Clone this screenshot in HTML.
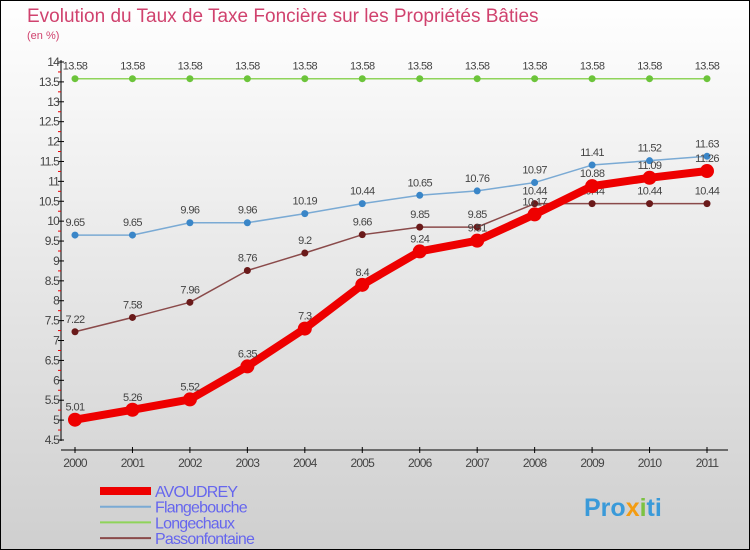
<!DOCTYPE html>
<html><head><meta charset="utf-8"><style>
body{margin:0;width:750px;height:550px;overflow:hidden}
svg{display:block;font-family:"Liberation Sans","DejaVu Sans",sans-serif}
</style></head><body>
<svg id="c" width="750" height="550">
<defs><linearGradient id="bg" x1="0" y1="0" x2="0" y2="1"><stop offset="0" stop-color="#ffffff"/><stop offset="1" stop-color="#cfcfcf"/></linearGradient></defs>
<rect x="0.5" y="0.5" width="749" height="549" fill="url(#bg)" stroke="#000"/>
<text x="27" y="22" font-size="19" fill="#d0426e">Evolution du Taux de Taxe Foncière sur les Propriétés Bâties</text>
<text x="27" y="39" font-size="11" fill="#d0426e">(en %)</text>
<g id="axes"></g><g id="series"></g><g id="legend"></g>
<text x="584" y="516" font-size="25" font-weight="bold" fill="#3a9ad9">Pro<tspan fill="#f39c12">x</tspan><tspan fill="#7cc242">i</tspan>ti</text>
</svg>
<script>
const years=["2000","2001","2002","2003","2004","2005","2006","2007","2008","2009","2010","2011"];
const avoudrey=[5.01,5.26,5.52,6.35,7.3,8.4,9.24,9.51,10.17,10.88,11.09,11.26];
const flangebouche=[9.65,9.65,9.96,9.96,10.19,10.44,10.65,10.76,10.97,11.41,11.52,11.63];
const longechaux=[13.58,13.58,13.58,13.58,13.58,13.58,13.58,13.58,13.58,13.58,13.58,13.58];
const passonfontaine=[7.22,7.58,7.96,8.76,9.2,9.66,9.85,9.85,10.44,10.44,10.44,10.44];
const yTicks=["4.5","5","5.5","6","6.5","7","7.5","8","8.5","9","9.5","10","10.5","11","11.5","12","12.5","13","13.5","14"];
const NS="http://www.w3.org/2000/svg";
const X=i=>75+i*(632/11);
const Y=v=>440-(v-4.5)*(378/9.5);
function mk(t,a,p){const e=document.createElementNS(NS,t);for(const k in a)e.setAttribute(k,a[k]);p.appendChild(e);return e;}
const ax=document.getElementById('axes');
let l=mk('line',{x1:61,y1:60,x2:61,y2:441,stroke:'#000'},ax);


l=mk('line',{x1:61,y1:450,x2:728,y2:450,stroke:'#000'},ax);


yTicks.forEach(t=>{const v=parseFloat(t),y=Y(v);
 mk('line',{x1:58,y1:y,x2:64,y2:y,stroke:'#000'},ax);
 if(v<14)mk('line',{x1:58,y1:Y(v+0.25),x2:61,y2:Y(v+0.25),stroke:'#e00'},ax);
 const tx=mk('text',{x:59,y:y+4,'font-size':12,'text-anchor':'end',fill:'#444','letter-spacing':'-0.8'},ax);
 tx.textContent=t;
 
 });
years.forEach((yr,i)=>{const x=X(i);
 mk('line',{x1:x,y1:447,x2:x,y2:453,stroke:'#000'},ax);
 const tx=mk('text',{x:x,y:467,'font-size':12,'text-anchor':'middle',fill:'#444','letter-spacing':'-0.8'},ax);
 tx.textContent=yr;
 
 });
const sg=document.getElementById('series');
const series=[
 {n:'longechaux',d:longechaux,c:'#8fd45a',p:'#6cc43a',w:1.5,r:3.5},
 {n:'flangebouche',d:flangebouche,c:'#7aaad4',p:'#3a86c8',w:1.5,r:3.5},
 {n:'passonfontaine',d:passonfontaine,c:'#8a4a4a',p:'#6a1a1a',w:1.5,r:3.5},
 {n:'avoudrey',d:avoudrey,c:'#ee0000',p:'#ee0000',w:8,r:7}];
series.forEach(s=>{
 const g=mk('g',{},sg);
 
 
 mk('polyline',{points:s.d.map((v,i)=>X(i)+','+Y(v)).join(' '),fill:'none',stroke:s.c,'stroke-width':s.w,'stroke-linejoin':'round'},g);
 s.d.forEach((v,i)=>{
  const c=mk('circle',{cx:X(i),cy:Y(v),r:s.r,fill:s.p},g);
  
  
  const t=mk('text',{x:X(i),y:Y(v)-9,'font-size':11,'text-anchor':'middle',fill:'#444','letter-spacing':'-0.6'},g);
  t.textContent=String(v);
  
  });});
const lg=document.getElementById('legend');
const ls=[['AVOUDREY','#ee0000',8],['Flangebouche','#7aaad4',2],['Longechaux','#8fd45a',2],['Passonfontaine','#8a4a4a',2]];
ls.forEach((e,i)=>{const y=491+i*15.7;
 const g=mk('g',{},lg);
 
 
 mk('line',{x1:100,y1:y,x2:151,y2:y,stroke:e[1],'stroke-width':e[2]},g);
 const t=mk('text',{x:155,y:y+6,'font-size':16,fill:'#6666ee','letter-spacing':'-0.8'},g);
 t.textContent=e[0];});
</script>
</body></html>
